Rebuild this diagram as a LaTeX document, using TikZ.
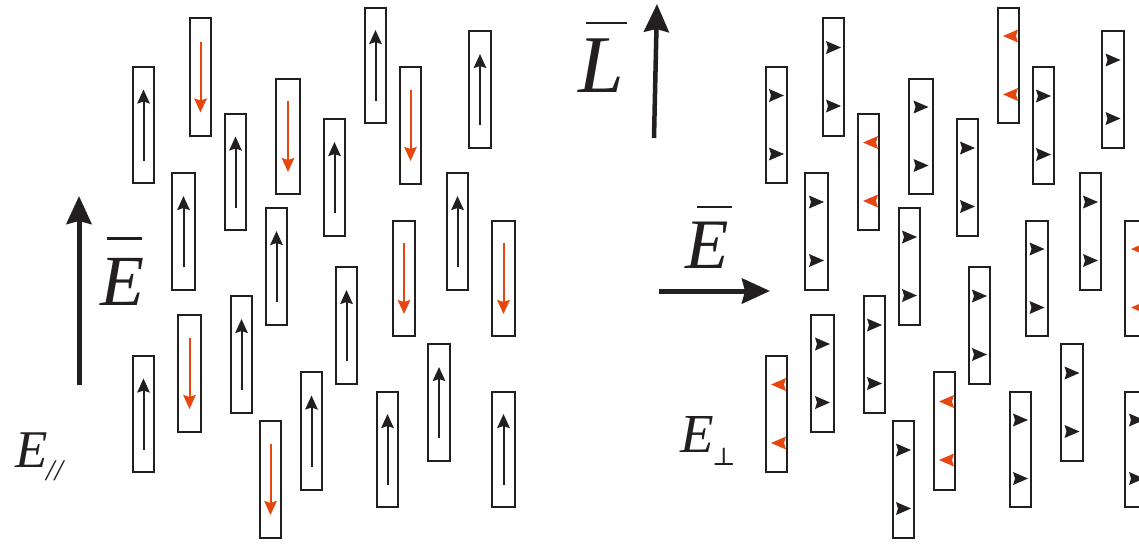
\documentclass[tikz,border=0pt]{standalone}
\usepackage{fontspec}
\setmainfont{Liberation Serif}
\newfontfamily\symfont{DejaVu Serif}
\usetikzlibrary{arrows.meta}
\definecolor{ink}{RGB}{35,31,32}
\definecolor{spinred}{RGB}{232,70,15}
\begin{document}
\begin{tikzpicture}[x=1pt,y=-1pt,
  cell/.style={draw=ink, line width=2pt, inner sep=0pt, rectangle},
  upspin/.style={draw=ink, line width=2pt, -{Stealth[length=14pt,width=12.5pt,inset=2pt]}},
  downspin/.style={draw=spinred, line width=2pt, -{Stealth[length=14pt,width=12.5pt,inset=2pt]}},
  field/.style={draw=ink, line width=5pt, -{Stealth[length=28pt,width=25pt,inset=3pt]}},
  lab/.style={inner sep=0pt, text=ink, font=\itshape},
  bar/.style={draw=ink, line width=2.2pt},
  rhead/.pic={\fill (8,0) -- (-7,-6.5) -- (-5,0) -- (-7,6.5) -- cycle;}
]
\useasboundingbox (0,0) rectangle (1139,544);
\clip (0,0) rectangle (1139,544);

% domains: left panel with longitudinal spins, right panel shifted copy with transverse spins
\foreach \n/\xa/\xb/\ya/\yb/\l/\r in {
  A/132/155/66/184/u/b, B/189/212/17/137/d/b, C/224/247/113/231/u/r,
  D/171/196/172/291/u/b, E/275/301/78/195/d/b, F/323/346/118/237/u/b,
  G/364/387/7/124/u/r, H/399/422/66/185/d/b, I/468/492/30/149/u/b,
  J/265/288/207/326/u/b, K/335/358/266/385/u/b, L/392/416/220/337/d/b,
  M/446/469/172/291/u/b, N/491/516/220/337/d/r, O/132/155/355/473/u/r,
  P/177/202/314/433/d/b, Q/230/253/295/414/u/b, R/259/282/420/539/d/b,
  S/300/323/371/491/u/r, T/376/399/391/508/u/b, U/427/451/343/462/u/b,
  V/491/516/391/508/u/b}{
  \pgfmathsetmacro\cx{(\xa+\xb)/2}
  \pgfmathsetmacro\cy{(\ya+\yb)/2}
  \pgfmathsetmacro\w{\xb-\xa-2}
  \pgfmathsetmacro\h{\yb-\ya-2}
  \node[cell, minimum width=\w pt, minimum height=\h pt] (L\n) at (\cx,\cy) {};
  \node[cell, minimum width=\w pt, minimum height=\h pt] (R\n) at (\cx+633,\cy) {};
  \if\l u
    \draw[upspin] ([yshift=-35.5pt]L\n.center) -- ([yshift=35.5pt]L\n.center);
  \else
    \draw[downspin] ([yshift=35.5pt]L\n.center) -- ([yshift=-35.5pt]L\n.center);
  \fi
  \if\r b
    \pic[fill=ink] at ([xshift=-0.5pt,yshift=29.5pt]R\n.center) {rhead};
    \pic[fill=ink] at ([xshift=-0.5pt,yshift=-29pt]R\n.center) {rhead};
  \else
    \pic[fill=spinred, xscale=-1] at ([xshift=2.5pt,yshift=29.5pt]R\n.center) {rhead};
    \pic[fill=spinred, xscale=-1] at ([xshift=2.5pt,yshift=-29pt]R\n.center) {rhead};
  \fi
}

% field and rotation axis arrows
\coordinate (efoot) at (79,385);
\coordinate (etip) at (79,196);
\draw[field] (efoot) -- (etip);
\coordinate (lfoot) at (654,138);
\coordinate (ltip) at (657,4);
\draw[field, line width=4.5pt] (lfoot) -- (ltip);
\coordinate (hfoot) at (659,291);
\coordinate (htip) at (770,291);
\draw[field] (hfoot) -- (htip);

% labels
\node[lab, font=\fontsize{72}{72}\selectfont\itshape, anchor=base west] (ebarL) at (100,305) {E};
\draw[bar] (107,238.5) -- (142,238.5);
\node[lab, font=\fontsize{82}{82}\selectfont\itshape, anchor=base west] (lbar) at (578,92) {L};
\draw[bar] (586,23) -- (627,23);
\node[lab, font=\fontsize{71}{71}\selectfont\itshape, anchor=base west] (ebarR) at (685,268) {E};
\draw[bar] (697,207) -- (732,207);
\node[lab, font=\fontsize{53}{53}\selectfont\itshape, anchor=base west] (epar) at (15,467) {E};
\node[lab, font=\fontsize{30}{30}\selectfont\itshape, anchor=base west] (parsub) at (46,480) {//};
\node[lab, font=\fontsize{55}{55}\selectfont\itshape, anchor=base west] (eperp) at (680,452) {E};
\node[lab, font=\fontsize{25}{25}\symfont, anchor=base west] (perpsub) at (712,465) {⊥};
\end{tikzpicture}
\end{document}
